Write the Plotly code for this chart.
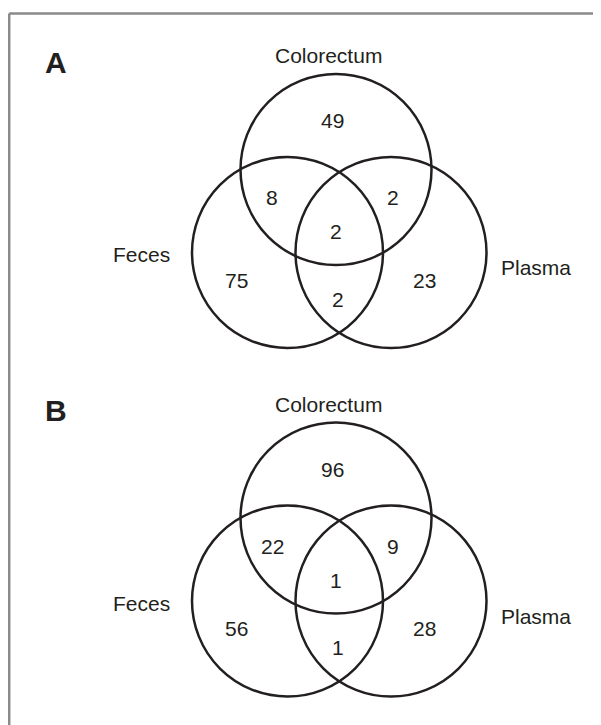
import plotly.graph_objects as go

# ---- data ----
set_labels = ["Colorectum", "Feces", "Plasma"]
panel_letters = ["A", "B"]
region_names = ["Colorectum only", "Colorectum∩Feces", "Colorectum∩Plasma",
                "All three", "Feces only", "Plasma only", "Feces∩Plasma"]
counts_A = [49, 8, 2, 2, 75, 23, 2]
counts_B = [96, 22, 9, 1, 56, 28, 1]
panel_counts = [counts_A, counts_B]

# ---- layout constants (pixels, page coordinates) ----
W, H = 601, 725
OFF = 8  # page body margin
PANEL_DY = [0, 348.5]
R = 95.5
circle_centers = [(336, 169.5), (287.5, 252.5), (391, 252.5)]
label_pos = [(328, 55.5), (141.5, 254.5), (536, 267.5)]
letter_pos = (55.5, 62)
region_pos = [(332, 120.5), (272, 197.5), (393, 197.5), (336, 231.5),
              (236, 280), (424, 280), (337.5, 299)]

INK = "#231f20"
FONT = "Liberation Sans, Arial, Helvetica, sans-serif"

fig = go.Figure()
shapes = []
annotations = []

# outer frame (top and left edges visible)
shapes.append(dict(type="line", xref="x", yref="y", x0=9.2, y0=13.5, x1=W, y1=13.5,
                   line=dict(color="#8a8a8a", width=2.5)))
shapes.append(dict(type="line", xref="x", yref="y", x0=9.2, y0=13.5, x1=9.2, y1=H,
                   line=dict(color="#8a8a8a", width=2.5)))

for p, letter in enumerate(panel_letters):
    dy = PANEL_DY[p]
    for (cx, cy) in circle_centers:
        shapes.append(dict(type="circle", xref="x", yref="y",
                           x0=cx - R, x1=cx + R, y0=cy + dy - R, y1=cy + dy + R,
                           line=dict(color=INK, width=2.5), fillcolor="rgba(0,0,0,0)"))
    annotations.append(dict(x=letter_pos[0], y=letter_pos[1] + dy, xref="x", yref="y",
                            text="<b>%s</b>" % letter, showarrow=False,
                            xanchor="center", yanchor="middle",
                            font=dict(family=FONT, size=30, color=INK)))
    for lab, (lx, ly) in zip(set_labels, label_pos):
        annotations.append(dict(x=lx, y=ly + dy, xref="x", yref="y", text=lab,
                                showarrow=False, xanchor="center", yanchor="middle",
                                font=dict(family=FONT, size=21, color=INK)))
    for val, (rx, ry) in zip(panel_counts[p], region_pos):
        annotations.append(dict(x=rx, y=ry + dy, xref="x", yref="y", text=str(val),
                                showarrow=False, xanchor="center", yanchor="middle",
                                font=dict(family=FONT, size=21, color=INK)))

fig.update_layout(
    width=W - OFF, height=H - OFF,
    margin=dict(l=0, r=0, t=0, b=0),
    paper_bgcolor="white", plot_bgcolor="white",
    xaxis=dict(range=[OFF, W], visible=False, fixedrange=True),
    yaxis=dict(range=[H, OFF], visible=False, fixedrange=True),
    shapes=shapes, annotations=annotations,
    showlegend=False,
)
fig.write_html("out.html")
